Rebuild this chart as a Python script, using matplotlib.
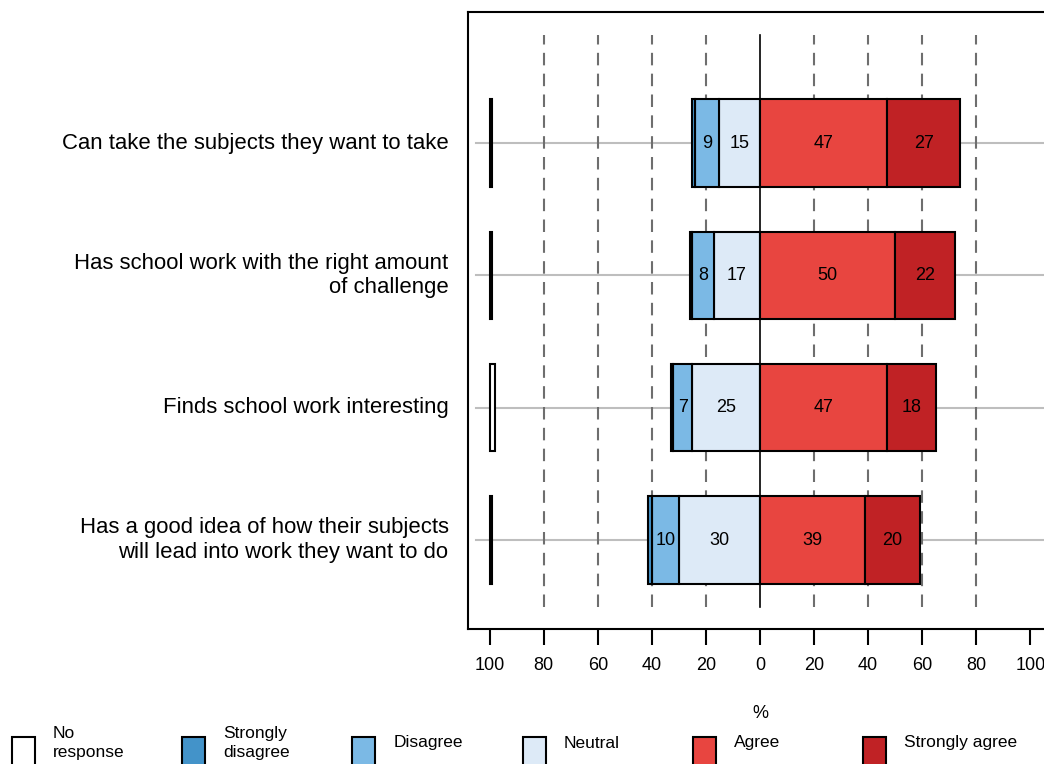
import matplotlib.pyplot as plt
from matplotlib.patches import Rectangle

# data (top row first)
QUESTIONS = [
    "Can take the subjects they want to take",
    "Has school work with the right amount\nof challenge",
    "Finds school work interesting",
    "Has a good idea of how their subjects\nwill lead into work they want to do",
]
NO_RESPONSE = [0.7, 0.7, 2, 0.7]
STRONGLY_DISAGREE = [1, 1, 1, 1.3]
DISAGREE = [9, 8, 7, 10]
NEUTRAL = [15, 17, 25, 30]
AGREE = [47, 50, 47, 39]
STRONGLY_AGREE = [27, 22, 18, 20]

LEGEND_LABELS = ["No\nresponse", "Strongly\ndisagree", "Disagree", "Neutral", "Agree", "Strongly agree"]
COLORS = ["#FFFFFF", "#4393C9", "#7BB9E5", "#DDEAF7", "#E84540", "#C02225"]
XTICKS = [-100, -80, -60, -40, -20, 0, 20, 40, 60, 80, 100]

plt.rcParams["font.family"] = ["Liberation Sans", "DejaVu Sans"]

W, H = 1044, 764
fig = plt.figure(figsize=(W / 100, H / 100), dpi=100)
ax = fig.add_axes([468 / W, (H - 629) / H, (1052 - 468) / W, (629 - 12) / H])
ax.set_xlim(-108, 108)
ax.set_ylim(0.3275, 4.99)

ypos = [4, 3, 2, 1]
bar_h = 0.66
lw = 1.5

# grid
for y in ypos:
    ax.plot([-105, 110], [y, y], color="#BEBEBE", lw=1.5, zorder=1, clip_on=False)
for x in [-80, -60, -40, -20, 20, 40, 60, 80]:
    ax.plot([x, x], [0.494, 4.816], color="#6E6E6E", lw=1.5, ls=(0, (6, 4)), zorder=1)
ax.plot([0, 0], [0.494, 4.816], color="black", lw=1.2, zorder=3)

for i, y in enumerate(ypos):
    # no response at the far left
    ax.barh(y, NO_RESPONSE[i], left=-100, height=bar_h, color=COLORS[0],
            edgecolor="black", lw=lw, zorder=2)
    # negative side
    left = 0
    for val, col, show in [(NEUTRAL[i], COLORS[3], True), (DISAGREE[i], COLORS[2], True),
                           (STRONGLY_DISAGREE[i], COLORS[1], False)]:
        ax.barh(y, -val, left=left, height=bar_h, color=col, edgecolor="black", lw=lw, zorder=2)
        if show:
            ax.text(left - val / 2, y, f"{val:g}", ha="center", va="center", fontsize=13, zorder=4)
        left -= val
    # positive side
    left = 0
    for val, col in [(AGREE[i], COLORS[4]), (STRONGLY_AGREE[i], COLORS[5])]:
        ax.barh(y, val, left=left, height=bar_h, color=col, edgecolor="black", lw=lw, zorder=2)
        ax.text(left + val / 2, y, f"{val:g}", ha="center", va="center", fontsize=13, zorder=4)
        left += val
    ax.text(-115.2, y, QUESTIONS[i], ha="right", va="center", fontsize=15.9,
            linespacing=1.2, clip_on=False)

ax.set_xticks(XTICKS)
ax.set_xticklabels([str(abs(t)) for t in XTICKS], fontsize=13)
ax.tick_params(axis="x", length=11.5, width=1.5, pad=9)
ax.set_yticks([])
for s in ax.spines.values():
    s.set_linewidth(1.5)
ax.text(0, 0.3275 - (713 - 629) / 132.33, "%", ha="center", va="center", fontsize=13,
        clip_on=False)

# legend along the bottom
for k, (lab, col) in enumerate(zip(LEGEND_LABELS, COLORS)):
    x0 = 12 + 170.2 * k
    fig.patches.append(Rectangle((x0 / W, -0.02), 23 / W, (H - 737) / H + 0.02,
                                 transform=fig.transFigure, facecolor=col,
                                 edgecolor="black", lw=1.5, clip_on=False))
    fig.text((x0 + 41) / W, (H - 743) / H, lab, ha="left", va="center", fontsize=12.5,
             linespacing=1.3)

fig.savefig("out.png", dpi=100)
